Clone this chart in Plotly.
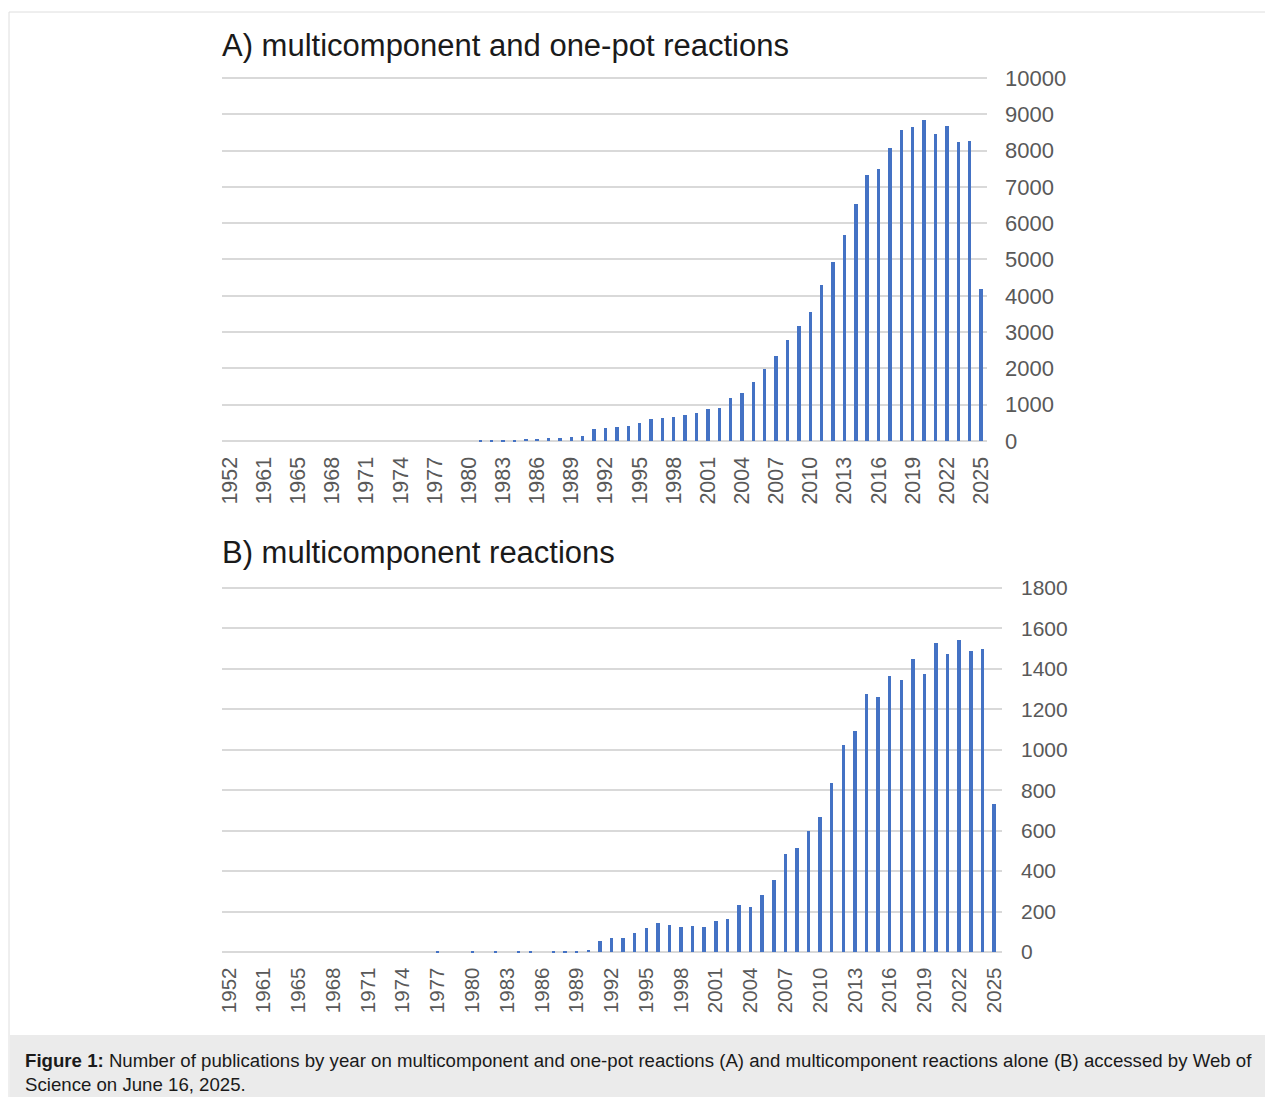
import plotly.graph_objects as go

# Categories (x axis): publication years as listed in the chart
years = [1952, 1955, 1959, 1961, 1963, 1964] + list(range(1965, 2026))
tick_years = [1952, 1961, 1965, 1968, 1971, 1974, 1977, 1980, 1983, 1986, 1989,
              1992, 1995, 1998, 2001, 2004, 2007, 2010, 2013, 2016, 2019, 2022, 2025]

# A) multicomponent and one-pot reactions
pubs_a = [0, 0, 0, 0, 0, 0,
          0, 0, 0, 0, 0, 0, 0, 0, 0, 0, 0, 0, 0, 0, 0, 0,          # 1965-1980
          20, 25, 28, 30, 56, 75, 84, 93, 112, 159,                 # 1981-1990
          336, 383, 411, 430, 495, 607, 654, 673, 738, 776,         # 1991-2000
          890, 925, 1195, 1330, 1651, 2000, 2358, 2789, 3174, 3560, # 2001-2010
          4312, 4945, 5679, 6541, 7339, 7505, 8073, 8578, 8661, 8862,  # 2011-2020
          8477, 8679, 8239, 8275, 4193]                             # 2021-2025

# B) multicomponent reactions
pubs_b = [0, 0, 0, 0, 0, 0,
          0, 0, 0, 0, 0, 0, 0, 0, 0, 0, 0, 0, 8, 0, 0, 5,          # 1965-1980
          0, 4, 0, 4, 8, 0, 4, 4, 4, 12,                            # 1981-1990
          59, 71, 71, 97, 119, 146, 138, 126, 131, 127,             # 1991-2000
          156, 163, 233, 225, 283, 357, 487, 517, 601, 670,         # 2001-2010
          838, 1024, 1096, 1276, 1264, 1366, 1345, 1453, 1379, 1528,  # 2011-2020
          1475, 1544, 1493, 1501, 733]                              # 2021-2025

yticks_a = list(range(0, 10001, 1000))
yticks_b = list(range(0, 1801, 200))

cats = [str(y) for y in years]
tick_cats = [str(y) for y in tick_years]

W, H = 1265, 1097
BLUE = "#4472C4"
GRID = "#d9d9d9"
TICKC = "#595959"
FONT = "Liberation Sans, Arial, sans-serif"


def px_x(p):
    return p / W


def px_y(p):
    return (H - p) / H


# small padding so that the top and bottom gridlines are drawn
PAD = 0.004

fig = go.Figure()
fig.add_trace(go.Bar(x=cats, y=pubs_a, marker_color=BLUE, width=0.3,
                     marker_line_width=0,
                     xaxis="x", yaxis="y", showlegend=False))
fig.add_trace(go.Bar(x=cats, y=pubs_b, marker_color=BLUE, width=0.3,
                     marker_line_width=0,
                     xaxis="x2", yaxis="y2", showlegend=False))

xcommon = dict(type="category", tickmode="array", tickvals=tick_cats, ticktext=tick_cats,
               tickangle=-90, showgrid=False, showline=False, zeroline=False, ticks="",
               ticklabelstandoff=9, automargin=False, fixedrange=True)

# plot A: 0 at y=441px, 10000 at y=78px
a_bot, a_top = 441, 78
a_span = (a_bot - a_top) * PAD
# plot B: 0 at y=952px, 1800 at y=588px
b_bot, b_top = 952, 588
b_span = (b_bot - b_top) * PAD

fig.update_layout(
    width=W, height=H, autosize=False,
    margin=dict(l=0, r=0, t=0, b=0, pad=0),
    paper_bgcolor="white", plot_bgcolor="white",
    bargap=0,
    xaxis=dict(xcommon, domain=[px_x(222), px_x(987)], range=[-0.7, 66.53], anchor="y",
               tickfont=dict(family=FONT, size=21.5, color=TICKC)),
    yaxis=dict(domain=[px_y(a_bot + a_span), px_y(a_top - a_span)],
               range=[-10000 * PAD, 10000 * (1 + PAD)], side="right", anchor="x",
               tickmode="array", tickvals=yticks_a, ticktext=[str(v) for v in yticks_a],
               showgrid=True, gridcolor=GRID, gridwidth=1.5, zeroline=False, showline=False,
               automargin=False, fixedrange=True,
               tickfont=dict(family=FONT, size=22, color=TICKC), ticklabelstandoff=17),
    xaxis2=dict(xcommon, domain=[px_x(222), px_x(1002)], range=[-0.6, 66.69], anchor="y2",
                tickfont=dict(family=FONT, size=20.5, color=TICKC)),
    yaxis2=dict(domain=[px_y(b_bot + b_span), px_y(b_top - b_span)],
                range=[-1800 * PAD, 1800 * (1 + PAD)], side="right", anchor="x2",
                tickmode="array", tickvals=yticks_b, ticktext=[str(v) for v in yticks_b],
                showgrid=True, gridcolor=GRID, gridwidth=1.5, zeroline=False, showline=False,
                automargin=False, fixedrange=True,
                tickfont=dict(family=FONT, size=21, color=TICKC), ticklabelstandoff=18),
)

shapes = [
    dict(type="rect", xref="paper", yref="paper", x0=px_x(10), x1=1, y0=0, y1=px_y(1035),
         fillcolor="#ebebeb", line=dict(width=0), layer="below"),
    dict(type="line", xref="paper", yref="paper", x0=px_x(9), x1=1, y0=px_y(12), y1=px_y(12),
         line=dict(color="#dedede", width=1)),
    dict(type="line", xref="paper", yref="paper", x0=px_x(9), x1=px_x(9), y0=0, y1=px_y(12),
         line=dict(color="#dedede", width=1)),
]
fig.update_layout(shapes=shapes)

annotations = [
    dict(text="A) multicomponent and one-pot reactions", x=px_x(220), y=px_y(46),
         xref="paper", yref="paper", xanchor="left", yanchor="middle", showarrow=False,
         font=dict(family=FONT, size=31, color="#1a1a1a")),
    dict(text="B) multicomponent reactions", x=px_x(220), y=px_y(552),
         xref="paper", yref="paper", xanchor="left", yanchor="middle", showarrow=False,
         font=dict(family=FONT, size=31, color="#1a1a1a")),
    dict(text="<b>Figure 1:</b> Number of publications by year on multicomponent and one-pot reactions (A) and multicomponent reactions alone (B) accessed by Web of",
         x=px_x(23), y=px_y(1060), xref="paper", yref="paper", xanchor="left", yanchor="middle",
         showarrow=False, font=dict(family=FONT, size=18.65, color="#1a1a1a")),
    dict(text="Science on June 16, 2025.",
         x=px_x(23), y=px_y(1084), xref="paper", yref="paper", xanchor="left", yanchor="middle",
         showarrow=False, font=dict(family=FONT, size=18.65, color="#1a1a1a")),
]
fig.update_layout(annotations=annotations)

fig.write_html("out.html")
